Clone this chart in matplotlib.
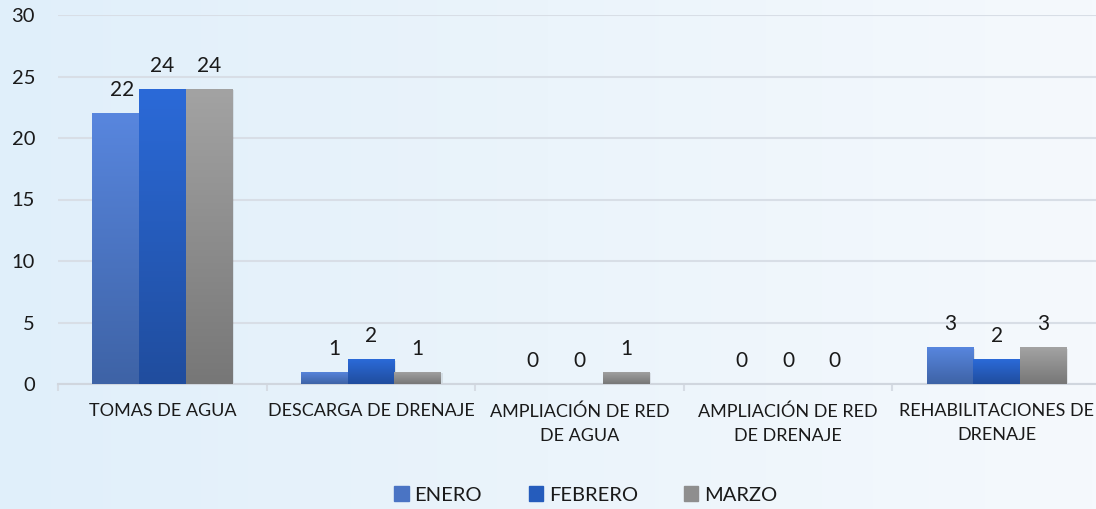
import numpy as np
import matplotlib
matplotlib.use("Agg")
import matplotlib.pyplot as plt
from matplotlib.colors import LinearSegmentedColormap

categories = ["TOMAS DE AGUA", "DESCARGA DE DRENAJE", "AMPLIACIÓN DE RED\nDE AGUA",
              "AMPLIACIÓN DE RED\nDE DRENAJE", "REHABILITACIONES DE\nDRENAJE"]
series_names = ["ENERO", "FEBRERO", "MARZO"]
enero = [22, 1, 0, 0, 3]
febrero = [24, 2, 0, 0, 2]
marzo = [24, 1, 1, 0, 3]
yticks = [0, 5, 10, 15, 20, 25, 30]

top_colors = ["#5886DE", "#2B6AD8", "#A3A3A3"]
bot_colors = ["#3E63A6", "#204D9E", "#777777"]
mid_colors = ["#4A74C4", "#255CBC", "#8E8E8E"]

plt.rcParams['font.family'] = ['Lato', 'DejaVu Sans']

W, H = 1096, 509
fig = plt.figure(figsize=(W / 100, H / 100), dpi=100)

# background gradient
bg = fig.add_axes([0, 0, 1, 1], zorder=-10)
bg.axis("off")
bgcmap = LinearSegmentedColormap.from_list("bg", ["#E0EFFA", "#EBF4FB", "#F5F9FD"])
grad = np.linspace(0, 1, 256).reshape(1, -1)
bg.imshow(grad, aspect="auto", cmap=bgcmap, extent=[0, 1, 0, 1])

ax = fig.add_axes([58 / W, 1 - 384 / H, 1043 / W, (384 - 15) / H])
ax.set_facecolor("none")

x = np.arange(len(categories))
bw = 0.224
data = [enero, febrero, marzo]
offsets = [-bw, 0, bw]

for k, (vals, name) in enumerate(zip(data, series_names)):
    bars = ax.bar(x + offsets[k], vals, width=bw, color=mid_colors[k], label=name, zorder=3,
                  linewidth=0)
    cmap = LinearSegmentedColormap.from_list("g%d" % k, [bot_colors[k], top_colors[k]])
    for b, v in zip(bars, vals):
        if v > 0:
            bx = b.get_x()
            ax.bar(bx + b.get_width() / 2 + 0.008, v, width=b.get_width(), bottom=-0.12,
                   color="#000000", alpha=0.08, zorder=2, linewidth=0)
            im = ax.imshow(np.linspace(0, 1, 100).reshape(-1, 1), cmap=cmap, origin="lower",
                           aspect="auto", extent=[bx, bx + b.get_width(), 0, v], zorder=3.5)
            im.set_clip_path(b)
    for i, (xi, v) in enumerate(zip(x + offsets[k], vals)):
        dx = 0
        if k == 0 and i == 0:
            dx = 5
        if k == 0 and i == 1:
            dx = 7
        ax.annotate(str(v), (xi, v), xytext=(dx, 16.5), textcoords="offset points",
                    ha="center", va="center", fontsize=15, color="#1a1a1a", zorder=5)

ax.set_xlim(-0.5, len(categories) - 0.5)
ax.set_ylim(0, 30)
ax.set_yticks(yticks)
ax.set_yticklabels([str(t) for t in yticks], fontsize=14.5, color="#1a1a1a")
ax.tick_params(axis="y", length=0, pad=16.5)
ax.set_xticks(x)
ax.set_xticklabels(categories, fontsize=13, color="#1a1a1a", linespacing=1.6)
ax.tick_params(axis="x", length=0, pad=14)
ax.set_xticks(np.arange(len(categories) + 1) - 0.5, minor=True)
ax.tick_params(axis="x", which="minor", length=5, color="#D6DCE4", width=1.5)
ax.grid(axis="y", color="#D8DEE6", linewidth=1.5, zorder=0)
ax.set_axisbelow(True)
for s in ["top", "right", "left"]:
    ax.spines[s].set_visible(False)
ax.spines["bottom"].set_color("#D0D6DE")
ax.spines["bottom"].set_linewidth(1.5)

handles = [plt.Rectangle((0, 0), 1, 1, color=c) for c in mid_colors]
fig.legend(handles, series_names, loc="center", bbox_to_anchor=(586 / W, 1 - 495 / H),
           ncol=3, frameon=False, fontsize=14.5, handlelength=0.7, handleheight=0.7,
           handletextpad=0.3, columnspacing=2.3, labelcolor="#1a1a1a")

fig.savefig("out.png", dpi=100)
